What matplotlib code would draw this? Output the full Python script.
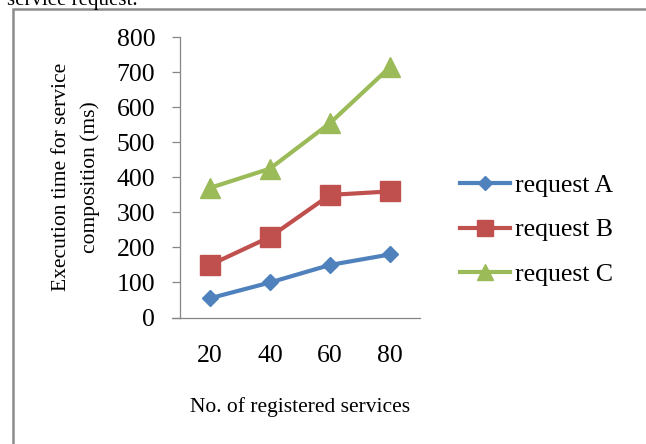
import matplotlib
matplotlib.use("Agg")
import matplotlib.pyplot as plt
from matplotlib.lines import Line2D
from matplotlib.patches import Rectangle

# Data
categories = ["20", "40", "60", "80"]
request_a = [55, 100, 150, 180]
request_b = [150, 230, 350, 360]
request_c = [370, 425, 555, 715]
series_names = ["request A", "request B", "request C"]
y_ticks = [0, 100, 200, 300, 400, 500, 600, 700, 800]

W, H = 646, 444
DPI = 100
SERIF = ["Liberation Serif", "DejaVu Serif"]

fig = plt.figure(figsize=(W / DPI, H / DPI), dpi=DPI)
fig.patch.set_facecolor("white")


def fx(px):
    return px / W


def fy(py):
    return 1 - py / H


# Plot area
ax = fig.add_axes([fx(180), fy(317.5), fx(420) - fx(180), fy(37.3) - fy(317.5)])
ax.set_facecolor("white")

x = list(range(len(categories)))
colors = ["#4F81BD", "#C0504D", "#9BBB59"]
markers = ["D", "s", "^"]
msizes = [7.8, 14.0, 14.0]
for vals, c, m, ms, name in zip([request_a, request_b, request_c], colors, markers, msizes, series_names):
    ax.plot(x, vals, color=c, lw=3.0, marker=m, markersize=ms,
            markerfacecolor=c, markeredgecolor=c, label=name,
            solid_capstyle="round", solid_joinstyle="round", clip_on=False)

ax.set_xlim(-0.5, len(categories) - 0.5)
ax.set_ylim(0, 800)
ax.set_yticks(y_ticks)
ax.set_yticklabels([str(v) for v in y_ticks], fontfamily=SERIF, fontsize=18.5)
ax.set_xticks(x)
ax.set_xticklabels(categories, fontfamily=SERIF, fontsize=18.5)

for side in ["top", "right"]:
    ax.spines[side].set_visible(False)
for side in ["left", "bottom"]:
    ax.spines[side].set_color("#868686")
    ax.spines[side].set_linewidth(0.9)

ax.tick_params(axis="y", direction="out", length=5.8, width=0.9, color="#868686", pad=12)
ax.tick_params(axis="x", length=0, pad=20)

# Extend the baseline to the left like the y ticks
ax.plot([-0.5 - 8 / 60, -0.5], [0, 0], color="#868686", lw=0.9, clip_on=False)

# Axis titles
fig.text(fx(300), fy(407), "No. of registered services", fontfamily=SERIF,
         fontsize=15.5, ha="center", va="center")
fig.text(fx(62), fy(177), "Execution time for service", fontfamily=SERIF,
         fontsize=15.5, ha="center", va="center", rotation=90)
fig.text(fx(90), fy(177), "composition (ms)", fontfamily=SERIF,
         fontsize=15.5, ha="center", va="center", rotation=90)

# Legend
handles = [Line2D([0], [0], color=c, lw=3.0, marker=m, markersize=ms * 0.85,
                  markerfacecolor=c, markeredgecolor=c)
           for c, m, ms in zip(colors, markers, msizes)]
fig.legend(handles, series_names, loc="center left",
           bbox_to_anchor=(fx(460), fy(230)), bbox_transform=fig.transFigure,
           frameon=False, prop={"family": SERIF, "size": 18.5},
           handlelength=1.95, handletextpad=0.2, labelspacing=0.82,
           borderpad=0, borderaxespad=0)

# Surrounding frame and caption text running off the top edge
fig.patches.append(Rectangle((fx(13.5), fy(480)), fx(700), fy(9.3) - fy(480),
                             transform=fig.transFigure, fill=False,
                             edgecolor="#8c8c8c", lw=1.8, clip_on=False))
fig.text(fx(7), fy(5), "service request.", fontfamily=SERIF, fontsize=15,
         ha="left", va="baseline")

fig.savefig("out.png", dpi=DPI, facecolor="white")
